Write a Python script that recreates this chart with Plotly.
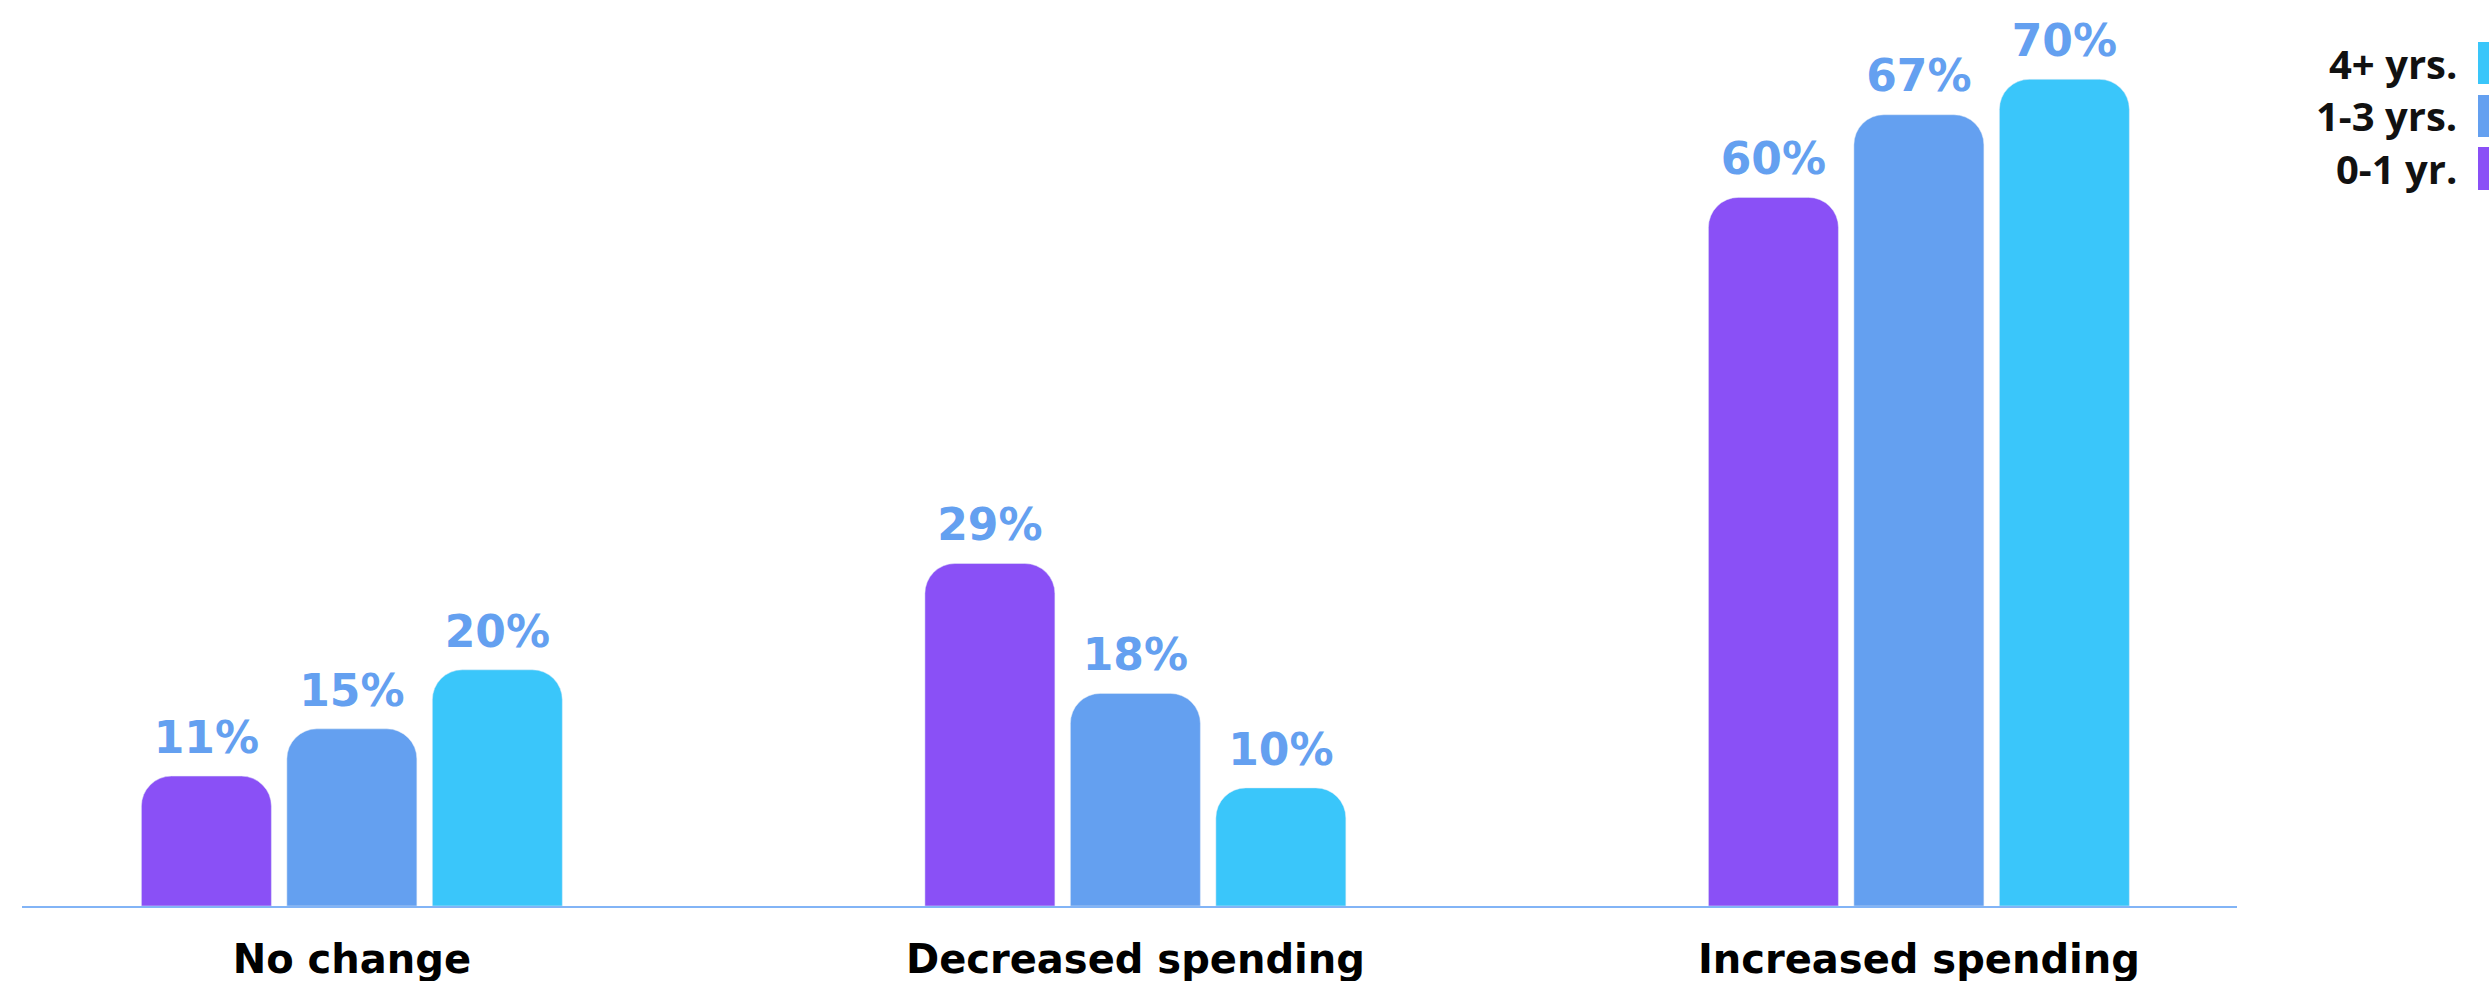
import plotly.graph_objects as go

categories = ["No change", "Decreased spending", "Increased spending"]
series_names = ["0-1 yr.", "1-3 yrs.", "4+ yrs."]
vals_0_1 = [11, 29, 60]
vals_1_3 = [15, 18, 67]
vals_4p = [20, 10, 70]
series_values = [vals_0_1, vals_1_3, vals_4p]
colors = ["#8A50F6", "#64A0F0", "#3AC6FA"]
label_color = "#64A0F0"

W, H = 2489, 981
ML, MR, MT, MB = 22, 252, 0, 75
PW = W - ML - MR
PH = H - MT - MB
FONT = "DejaVu Sans"
LEG_FONT = "Open Sans"
GAP = 0.443

fig = go.Figure()
for name, vals, col, grp in zip(series_names, series_values, colors, ["g0", "g1", "g2"]):
    fig.add_trace(go.Bar(
        x=categories, y=vals, name=name, marker_color=col,
        offsetgroup=grp, alignmentgroup="a", showlegend=False,
    ))
for name, vals, grp in zip(series_names, series_values, ["g0", "g1", "g2"]):
    fig.add_trace(go.Scatter(
        x=categories, y=vals, mode="markers+text",
        text=[f"{v}%" for v in vals], textposition="top center",
        textfont=dict(family=FONT, size=44, color=label_color, weight=700),
        marker=dict(size=18, opacity=0),
        offsetgroup=grp, alignmentgroup="a", showlegend=False,
        hoverinfo="skip", cliponaxis=False,
    ))


def px(xp):
    return (xp - ML) / PW


def py(yp):
    return 1 - (yp - MT) / PH


legend_rows = [("4+ yrs.", colors[2], 42, 84), ("1-3 yrs.", colors[1], 95, 137), ("0-1 yr.", colors[0], 147, 190)]
for label, col, y0, y1 in legend_rows:
    fig.add_shape(type="rect", xref="paper", yref="paper",
                  x0=px(2478), x1=px(2500), y0=py(y1), y1=py(y0),
                  fillcolor=col, line=dict(width=0), layer="above")
    fig.add_annotation(xref="paper", yref="paper", x=px(2459), y=py((y0 + y1) / 2),
                       text=label, showarrow=False, xanchor="right", yanchor="middle",
                       font=dict(family=LEG_FONT, size=40, color="#111111", weight=700))

fig.update_layout(
    width=W, height=H,
    margin=dict(l=ML, r=MR, t=MT, b=MB, pad=0, autoexpand=False),
    plot_bgcolor="white", paper_bgcolor="white",
    barmode="group", bargap=GAP, bargroupgap=0.1065,
    scattermode="group", scattergap=GAP,
    barcornerradius=30,
    showlegend=False,
)
fig.update_xaxes(
    range=[-0.421, 2.406], showline=True, linecolor="#82B4F6", linewidth=2,
    showgrid=False, zeroline=False, automargin=False, layer="above traces",
    ticks="outside", ticklen=17, tickcolor="rgba(0,0,0,0)",
    tickfont=dict(family=FONT, size=40, color="#000000", weight=700),
)
fig.update_yaxes(range=[0, PH / 11.81], showgrid=False, zeroline=False,
                 showticklabels=False, showline=False, automargin=False)

fig.write_html("out.html", config={"displayModeBar": False},
               post_script="document.body.style.margin='0';document.body.style.overflow='hidden';")
